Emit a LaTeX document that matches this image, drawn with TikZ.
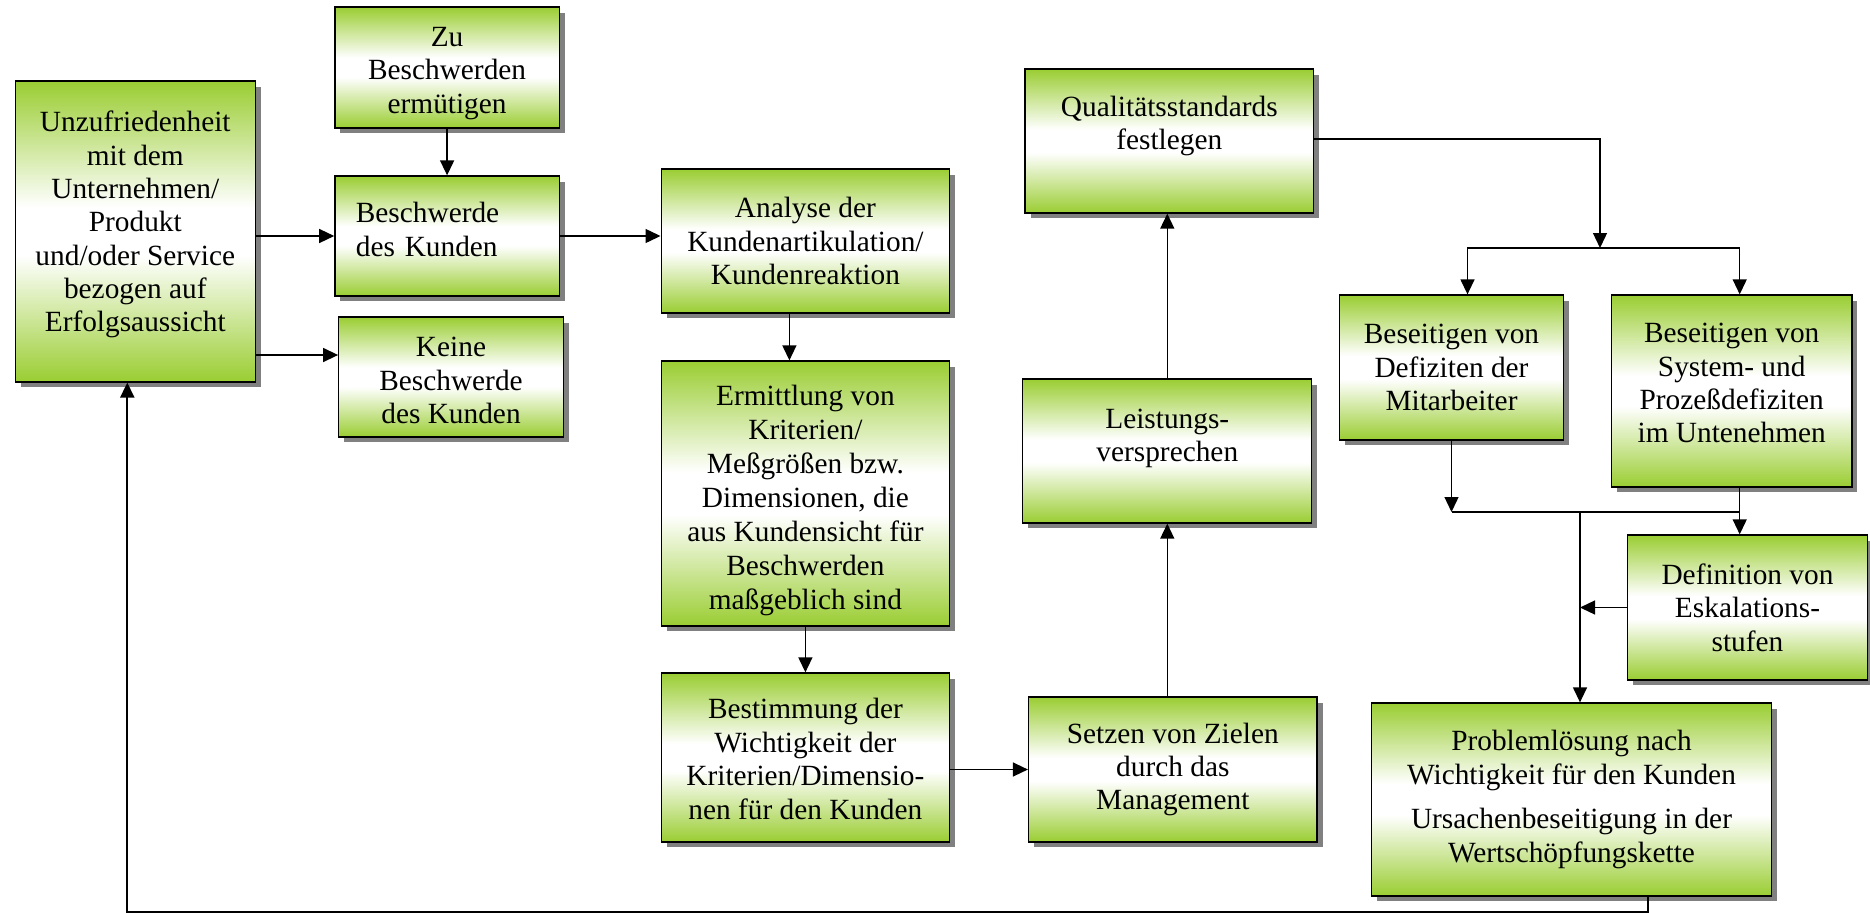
\documentclass[tikz,border=0pt]{standalone}
\usepackage{fontspec}
\setmainfont{Liberation Serif}
\usepackage{tikz}
\usetikzlibrary{positioning,shadows,arrows.meta,calc}
\definecolor{blattgruen}{RGB}{154,205,50}
\pgfdeclareverticalshading{feldverlauf}{100bp}{color(0bp)=(blattgruen); color(25bp)=(blattgruen); color(46bp)=(white); color(54bp)=(white); color(75bp)=(blattgruen); color(100bp)=(blattgruen)}

\begin{document}
\begin{tikzpicture}[x=0.02cm, y=-0.02cm,
    feld/.style={draw=black, line width=0.75pt, shading=feldverlauf, align=center, inner sep=2pt,
        font=\fontsize{16.7}{19}\selectfont,
        drop shadow={shadow xshift=0.11cm, shadow yshift=-0.11cm, fill=gray, opacity=1}},
    pfeil/.style={line width=0.75pt, -{Triangle[length=0.3cm, width=0.28cm]}}]
\useasboundingbox (0,0) rectangle (1870,913);

% Kaestchen
\node[feld, minimum width=4.80cm, minimum height=6.02cm, text depth=0.4cm] (unzuf) at (135.3,231.5) {Unzufriedenheit\\mit dem\\Unternehmen/\\Produkt\\und/oder Service\\bezogen auf\\Erfolgsaussicht};
\node[feld, minimum width=4.49cm, minimum height=2.42cm, text height=52pt, text depth=0pt] (zu) at (447.1,67.5) {Zu\\Beschwerden\\ermütigen};
\node[feld, minimum width=4.49cm, minimum height=2.40cm, align=left, text width=3.65cm, text depth=0.94cm] (beschw) at (447.1,236) {Beschwerde\\des Kunden};
\node[feld, minimum width=4.49cm, minimum height=2.40cm, text height=53pt, text depth=0pt] (keine) at (451,377) {Keine\\Beschwerde\\des Kunden};
\node[feld, minimum width=5.77cm, minimum height=2.88cm] (analyse) at (805.4,241) {Analyse der\\Kundenartikulation/\\Kundenreaktion};
\node[feld, minimum width=5.77cm, minimum height=5.30cm, font=\fontsize{16.7}{19.4}\selectfont, text height=132.4pt, text depth=0pt] (ermitt) at (805.4,493.5) {Ermittlung von\\Kriterien/\\Meßgrößen bzw.\\Dimensionen, die\\aus Kundensicht für\\Beschwerden\\maßgeblich sind};
\node[feld, minimum width=5.77cm, minimum height=3.38cm, text height=70pt, text depth=0pt] (bestimm) at (805.4,757.5) {Bestimmung der\\Wichtigkeit der\\Kriterien/Dimensio-\\nen für den Kunden};
\node[feld, minimum width=5.77cm, minimum height=2.88cm, text depth=0.72cm] (qual) at (1169.3,141) {Qualitätsstandards\\festlegen};
\node[feld, minimum width=5.78cm, minimum height=2.88cm, text depth=0.64cm] (leist) at (1167.3,451) {Leistungs-\\versprechen};
\node[feld, minimum width=5.77cm, minimum height=2.90cm] (setzen) at (1172.8,769.5) {Setzen von Zielen\\durch das\\Management};
\node[feld, minimum width=4.49cm, minimum height=2.90cm] (mitarb) at (1451.5,367.5) {Beseitigen von\\Defiziten der\\Mitarbeiter};
\node[feld, minimum width=4.81cm, minimum height=3.84cm, text depth=0.32cm] (system) at (1731.7,391) {Beseitigen von\\System- und\\Prozeßdefiziten\\im Untenehmen};
\node[feld, minimum width=4.81cm, minimum height=2.90cm] (defin) at (1747.5,607.5) {Definition von\\Eskalations-\\stufen};
\node[feld, minimum width=8.01cm, minimum height=3.86cm] (problem) at (1571.5,799.5) {Problemlösung nach\\Wichtigkeit für den Kunden\\[0.22cm]Ursachenbeseitigung in der\\Wertschöpfungskette};

% Hilfspunkte
\coordinate (keinepfeil) at ([yshift=0.44cm]keine.west);
\coordinate (verteiler) at (1600,248);
\coordinate (sammel) at (1580,512);
\coordinate (sysaus) at ([xshift=0.16cm]system.south);
\coordinate (rueckab) at ([xshift=1.53cm]problem.south);
\coordinate (rueckauf) at ([xshift=-0.16cm]unzuf.south);
\coordinate (unten) at (0,912.5);

% Pfeile
\draw[pfeil] (zu) -- (beschw);
\draw[pfeil] (unzuf.east |- beschw.west) -- (beschw.west);
\draw[pfeil] (unzuf.east |- keinepfeil) -- (keinepfeil);
\draw[pfeil] (beschw.east) -- (beschw.east -| analyse.west);
\draw[pfeil] ([xshift=-0.32cm]analyse.south) -- ([xshift=-0.32cm]ermitt.north);
\draw[pfeil] (ermitt) -- (bestimm);
\draw[pfeil] (bestimm.east |- setzen.west) -- (setzen.west);
\draw[pfeil] (setzen.north -| leist.south) -- (leist.south);
\draw[pfeil] (leist.north) -- (leist.north |- qual.south);
\draw[pfeil] ([yshift=0.04cm]qual.east) -| (verteiler);
\draw[pfeil] (verteiler) -| ([xshift=0.32cm]mitarb.north);
\draw[pfeil] (verteiler) -| ([xshift=0.16cm]system.north);
\draw[pfeil] (mitarb.south) -- (mitarb.south |- sammel);
\draw[line width=0.75pt] (mitarb.south |- sammel) -- (sysaus |- sammel);
\draw[pfeil] (sysaus) -- (sysaus |- defin.north);
\draw[pfeil] (sammel) -- (sammel |- problem.north);
\draw[pfeil] (defin.west) -- (defin.west -| sammel);
\draw[pfeil, line width=1.3pt] (rueckab) -- (rueckab |- unten) -| (rueckauf);
\end{tikzpicture}
\end{document}
